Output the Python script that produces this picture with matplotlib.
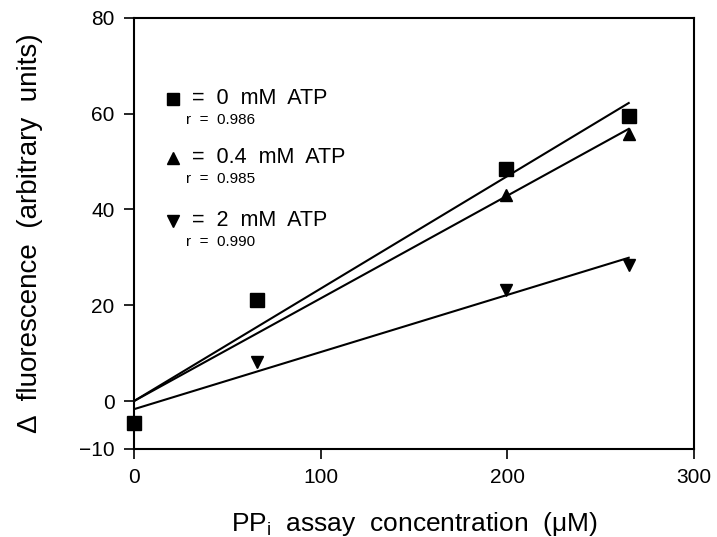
# PPi assay: change in fluorescence vs PPi concentration at three ATP levels

import numpy as np
import matplotlib.pyplot as plt

plt.rcParams['font.family'] = ['Liberation Sans', 'DejaVu Sans']

x_sq = [0, 66, 199, 265]
y_sq = [-4.6, 21.0, 48.4, 59.4]      # 0 mM ATP
x_up = [199, 265]
y_up = [42.9, 55.8]                  # 0.4 mM ATP
x_dn = [66, 199, 265]
y_dn = [8.2, 23.2, 28.4]             # 2 mM ATP

# regression lines, end points
fit_x = [0, 265]
fit_sq = [0.0, 62.2]
fit_up = [0.0, 56.8]
fit_dn = [-1.7, 29.9]

labels = ["=  0  mM  ATP", "=  0.4  mM  ATP", "=  2  mM  ATP"]
r_vals = ["r  =  0.986", "r  =  0.985", "r  =  0.990"]

fig = plt.figure(figsize=(7.17, 5.37), dpi=100)
ax = fig.add_axes([0.187, 0.164, 0.781, 0.803])

ax.plot(fit_x, fit_sq, color='black', lw=1.5)
ax.plot(fit_x, fit_up, color='black', lw=1.5)
ax.plot(fit_x, fit_dn, color='black', lw=1.5)
ax.plot(x_sq, y_sq, 's', color='black', ms=10, clip_on=False)
ax.plot(x_up, y_up, '^', color='black', ms=9)
ax.plot(x_dn, y_dn, 'v', color='black', ms=9)

ax.set_xlim(0, 300)
ax.set_ylim(-10, 80)
ax.set_xticks([0, 100, 200, 300])
ax.set_yticks([-10, 0, 20, 40, 60, 80])
ax.tick_params(direction='out', length=7, width=1.2, labelsize=15, pad=7, top=False, right=False)
for s in ax.spines.values():
    s.set_linewidth(1.5)

# legend drawn by hand
mk = ['s', '^', 'v']
ly = [63.1, 50.8, 37.6]
for i in range(3):
    ax.plot(21, ly[i], mk[i], color='black', ms=8, clip_on=False)
    ax.text(31, ly[i], labels[i], fontsize=15.5, va='center', ha='left')
    ax.text(28, ly[i] - 4.4, r_vals[i], fontsize=11, va='center', ha='left')

ax.set_xlabel(r"PP$_\mathregular{i}$  assay  concentration  ($\mathregular{\mu}$M)", fontsize=19, labelpad=16)
ax.set_ylabel("Δ  fluorescence  (arbitrary  units)", fontsize=20, labelpad=26)

fig.savefig("out.png", dpi=100)
